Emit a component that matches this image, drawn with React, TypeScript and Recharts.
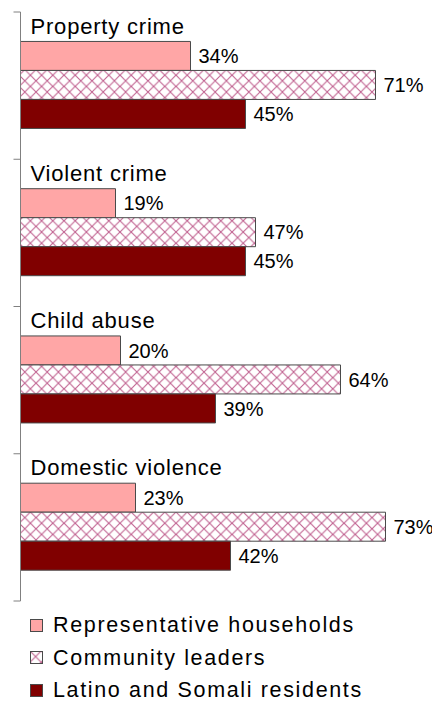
import React from 'react';
import { BarChart, Bar, XAxis, YAxis, LabelList, Legend } from 'recharts';

const categories = ['Property crime', 'Violent crime', 'Child abuse', 'Domestic violence'];
const households = [34, 19, 20, 23];
const leaders = [71, 47, 64, 73];
const residents = [45, 45, 39, 42];
const seriesNames = ['Representative households', 'Community leaders', 'Latino and Somali residents'];

const data = categories.map((c, i) => ({
  category: c,
  households: households[i],
  leaders: leaders[i],
  residents: residents[i],
}));

const FONT = '"Liberation Sans", Arial, sans-serif';
const W = 432;
const H = 695;
const M = { top: 4, right: 19.5, bottom: 102, left: 0 };
const PLOT_H = H - M.top - M.bottom;
const BAND = PLOT_H / categories.length;
const AXIS_COLOR = '#808080';
const BAR_STROKE = '#4a4a4a';
const HATCH = 11.2;

const CategoryTick = (props: any) => {
  const { x, y, payload, index } = props;
  const top = y - BAND / 2;
  return (
    <g>
      <line x1={x - 7} x2={x} y1={top} y2={top} stroke={AXIS_COLOR} strokeWidth={1} />
      {index === categories.length - 1 && (
        <line x1={x - 7} x2={x} y1={y + BAND / 2} y2={y + BAND / 2} stroke={AXIS_COLOR} strokeWidth={1} />
      )}
      <text x={x + 10} y={top + 21.5} fontSize={22} fontFamily={FONT} fill="#000" letterSpacing={0.8}>
        {payload.value}
      </text>
    </g>
  );
};

const renderLegend = (props: any) => {
  const payload = [...(props.payload || [])].sort(
    (a: any, b: any) => seriesNames.indexOf(a.value) - seriesNames.indexOf(b.value)
  );
  return (
    <div style={{ fontFamily: FONT, position: 'relative', height: 0, overflow: 'visible' }}>
      <div style={{ position: 'absolute', left: 0, top: 0 }}>
        {payload.map((entry: any) => (
          <div key={entry.value} style={{ display: 'flex', alignItems: 'center', height: 32.5, whiteSpace: 'nowrap' }}>
            <svg width={13} height={13} style={{ display: 'block' }}>
              <rect x={0.5} y={0.5} width={12} height={12} fill={entry.color} stroke={BAR_STROKE} strokeWidth={1} />
            </svg>
            <span style={{ marginLeft: 10, fontSize: 21.5, letterSpacing: 1.65, color: '#000', lineHeight: '24px' }}>
              {entry.value}
            </span>
          </div>
        ))}
      </div>
    </div>
  );
};

const fmt = (v: any) => `${v}%`;

export default function App() {
  return (
    <BarChart
      width={W}
      height={H}
      data={data}
      layout="vertical"
      margin={M}
      barCategoryGap="20%"
      barGap={0}
    >
      <defs>
        <pattern id="hatch" patternUnits="userSpaceOnUse" width={HATCH} height={HATCH}>
          <rect x={0} y={0} width={HATCH} height={HATCH} fill="#ffffff" />
          <path d={`M0,0 L${HATCH},${HATCH} M0,${HATCH} L${HATCH},0`} stroke="#C0608F" strokeWidth={1.1} />
        </pattern>
      </defs>
      <XAxis type="number" domain={[0, 80]} hide />
      <YAxis
        type="category"
        dataKey="category"
        width={12.5}
        axisLine={{ stroke: AXIS_COLOR, strokeWidth: 1 }}
        tickLine={false}
        tickSize={0}
        tickMargin={0}
        tick={<CategoryTick />}
        interval={0}
      />
      <Legend
        layout="vertical"
        align="center"
        verticalAlign="bottom"
        content={renderLegend}
        wrapperStyle={{ left: 22, top: 601, width: 400, height: 0, overflow: 'visible' }}
      />
      <Bar dataKey="households" name={seriesNames[0]} fill="#FFA6A6" stroke={BAR_STROKE} strokeWidth={1} isAnimationActive={false}>
        <LabelList dataKey="households" position="right" offset={8} formatter={fmt} fill="#000" fontSize={20} fontFamily={FONT} />
      </Bar>
      <Bar dataKey="leaders" name={seriesNames[1]} fill="url(#hatch)" stroke={BAR_STROKE} strokeWidth={1} isAnimationActive={false}>
        <LabelList dataKey="leaders" position="right" offset={8} formatter={fmt} fill="#000" fontSize={20} fontFamily={FONT} />
      </Bar>
      <Bar dataKey="residents" name={seriesNames[2]} fill="#800000" stroke={BAR_STROKE} strokeWidth={1} isAnimationActive={false}>
        <LabelList dataKey="residents" position="right" offset={8} formatter={fmt} fill="#000" fontSize={20} fontFamily={FONT} />
      </Bar>
    </BarChart>
  );
}
